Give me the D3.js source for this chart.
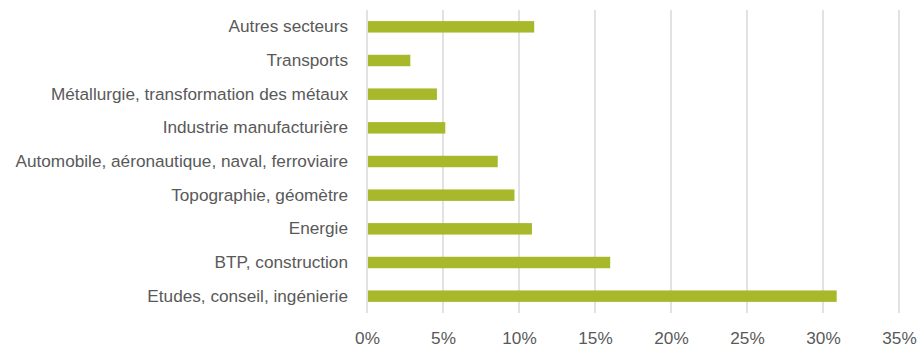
<!DOCTYPE html>
<html><head><meta charset="utf-8">
<script src="https://cdn.jsdelivr.net/npm/d3@7"></script>
<style>
body{margin:0;background:#fff;}
text{font-family:"Liberation Sans",Arial,sans-serif;fill:#595959;}
</style></head><body>
<svg id="c" width="917" height="347"></svg>
<script>
const categories = ["Autres secteurs","Transports","Métallurgie, transformation des métaux","Industrie manufacturière","Automobile, aéronautique, naval, ferroviaire","Topographie, géomètre","Energie","BTP, construction","Etudes, conseil, ingénierie"];
const values = [11.0, 2.85, 4.6, 5.15, 8.6, 9.7, 10.85, 16.0, 30.9];
const xTicks = [0,5,10,15,20,25,30,35];

const svg = d3.select("#c");
const m = {left:367, right:18, top:10, bottom:34};
const W = 917, H = 347;
const x = d3.scaleLinear().domain([0,35]).range([m.left, W-m.right]);
const y = d3.scaleBand().domain(categories).range([m.top, H-m.bottom]).paddingInner(0.66).paddingOuter(0.33);

// gridlines
svg.append("g").selectAll("line").data(xTicks).join("line")
  .attr("x1",d=>x(d)).attr("x2",d=>x(d))
  .attr("y1",m.top).attr("y2",H-m.bottom)
  .attr("stroke","#d9d9d9").attr("stroke-width",1.5);

// bars
svg.append("g").selectAll("rect").data(values).join("rect")
  .attr("x",x(0)+1)
  .attr("y",(d,i)=>y(categories[i]))
  .attr("width",d=>x(d)-x(0)-1)
  .attr("height",y.bandwidth())
  .attr("fill","#a7b82a");

// y labels
const yAxis = d3.axisLeft(y).tickSize(0).tickPadding(0);
const gy = svg.append("g").attr("transform",`translate(${m.left-19},0)`).call(yAxis);
gy.select(".domain").remove();
gy.selectAll("text").attr("font-size",17.2).style("font-family",null);

// x labels
const xAxis = d3.axisBottom(x).tickValues(xTicks).tickFormat(d=>d+"%").tickSize(0).tickPadding(0);
const gx = svg.append("g").attr("transform",`translate(0,${H-m.bottom})`).call(xAxis);
gx.select(".domain").remove();
gx.selectAll("text").attr("font-size",17.2).attr("dy",null).attr("y",31).style("font-family",null);
</script>
</body></html>
